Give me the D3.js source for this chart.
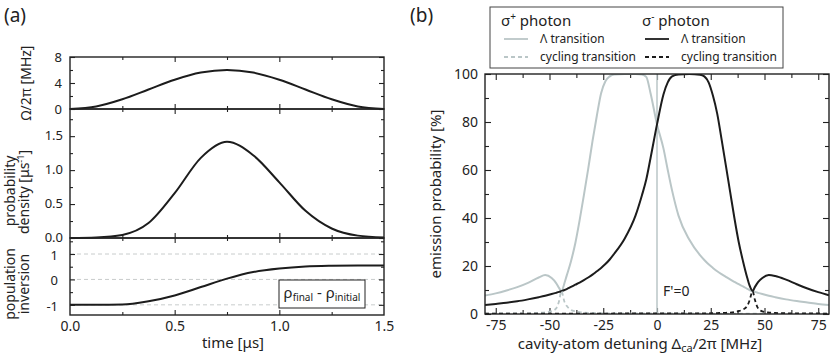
<!DOCTYPE html>
<html>
<head>
<meta charset="utf-8">
<script src="https://cdnjs.cloudflare.com/ajax/libs/d3/7.8.5/d3.min.js"></script>
<style>
body { margin: 0; background: #fff; }
svg { font-family: "Noto Sans", sans-serif; }
</style>
</head>
<body>
<svg id="chart" width="830" height="357"></svg>
<script>
// ---- panel (a): time traces
var time      = [0, 0.125, 0.25, 0.375, 0.5, 0.625, 0.75, 0.875, 1.0, 1.125, 1.25, 1.375, 1.5];
var rabi      = [0, 0.40, 1.5, 3.0, 4.5, 5.6, 6.0, 5.6, 4.5, 3.0, 1.5, 0.40, 0];
var density   = [0, 0.008, 0.045, 0.22, 0.66, 1.18, 1.417, 1.22, 0.82, 0.40, 0.14, 0.035, 0.008];
var inversion = [-1, -1, -0.99, -0.86, -0.63, -0.30, 0.03, 0.29, 0.43, 0.51, 0.54, 0.55, 0.55];

// ---- panel (b): emission probability vs detuning
var detuning = [-80, -75, -70, -65, -60, -55, -52, -49, -47, -45.5, -44.5, -43, -42, -40, -38, -36, -34, -32, -30, -28,
  -26, -24, -22, -20, -15, -10, -7, -5, -3, 0, 3, 5, 7, 10, 15, 20, 22, 24, 26, 28,
  30, 32, 34, 36, 38, 40, 42, 43, 44.5, 45.5, 47, 49, 52, 55, 60, 65, 70, 75, 80];
var plusLambda = [7.7, 8.6, 9.8, 11.2, 13.0, 15.2, 16.2, 15.0, 13.0, 10.8, 9.5, 13, 16, 22, 29.5, 39, 49.5, 60.5, 72, 82.5,
  92, 97, 99, 99.8, 100, 100, 99.8, 98.8, 92, 79, 69, 60, 51.5, 41, 31, 24.5, 22.5, 20.7, 19.2, 17.8,
  16.6, 15.5, 14.4, 13.4, 12.4, 11.5, 10.5, 10, 9.5, 9.2, 8.8, 8.3, 7.6, 7.0, 6.1, 5.4, 4.8, 4.2, 3.7];
var minusLambda = [3.7, 4.2, 4.7, 5.3, 6.1, 7.0, 7.6, 8.3, 8.8, 9.2, 9.5, 10, 10.4, 11.3, 12.2, 13.1, 14.1, 15.2, 16.4, 17.8,
  19.2, 20.8, 22.7, 25, 31.5, 41, 49.5, 56, 65, 79, 91.5, 96.5, 99, 99.8, 100, 99.7, 99, 96.5, 91, 83.5,
  73, 62, 51, 40, 30, 22, 15, 12, 9.6, 11.2, 13.3, 15, 16.2, 15.8, 14.3, 12.4, 10.6, 9.1, 7.8];
var plusCycling = [0.15, 0.2, 0.2, 0.25, 0.3, 0.45, 0.7, 1.2, 2.2, 5.5, 9.5, 5, 3.4, 1.7, 1.1, 0.8, 0.6, 0.5, 0.45, 0.4,
  0.35, 0.3, 0.3, 0.3, 0.25, 0.2, 0.2, 0.2, 0.2, 0.2, 0.2, 0.2, 0.2, 0.2, 0.2, 0.2, 0.15, 0.15, 0.15, 0.15,
  0.15, 0.15, 0.15, 0.15, 0.15, 0.15, 0.15, 0.15, 0.15, 0.15, 0.15, 0.15, 0.15, 0.15, 0.15, 0.15, 0.15, 0.15, 0.15];
var minusCycling = [0.15, 0.15, 0.15, 0.15, 0.15, 0.15, 0.15, 0.15, 0.15, 0.15, 0.15, 0.15, 0.15, 0.15, 0.15, 0.15, 0.15, 0.15, 0.15, 0.15,
  0.15, 0.15, 0.15, 0.2, 0.2, 0.2, 0.2, 0.2, 0.2, 0.2, 0.2, 0.2, 0.2, 0.2, 0.25, 0.3, 0.3, 0.3, 0.35, 0.4,
  0.45, 0.5, 0.6, 0.8, 1.2, 1.9, 3.4, 5.5, 9.5, 6, 2.4, 1.1, 0.6, 0.45, 0.3, 0.25, 0.2, 0.2, 0.15];

var GRAY = "#bac6c7", DARK = "#1c1c1c", INK = "#222";
var FONT = "'Noto Sans', sans-serif";

var svg = d3.select("#chart");

function axis(g, gen, values, size, tx, ty, fmt, pad, fs) {
  var a = gen.tickValues(values).tickSize(-size).tickPadding(pad || 6)
    .tickFormat(fmt || function () { return ""; });
  var s = g.append("g")
    .attr("transform", "translate(" + tx + "," + ty + ")")
    .call(a);
  s.attr("font-family", FONT).attr("font-size", fs || 14);
  s.select(".domain").remove();
  s.selectAll("line").attr("stroke", INK).attr("stroke-width", 1.1);
  s.selectAll("text").attr("fill", INK);
  return s;
}

function box(g, x, y) {
  g.append("rect")
    .attr("x", x.range()[0]).attr("y", y.range()[1])
    .attr("width", x.range()[1] - x.range()[0])
    .attr("height", y.range()[0] - y.range()[1])
    .attr("fill", "none").attr("stroke", INK).attr("stroke-width", 1.4);
}

// ticks on both edges of a subplot, pointing inwards
function xTicks(g, x, y, major, minor, majorLen, minorLen) {
  var yb = y.range()[0], yt = y.range()[1];
  axis(g, d3.axisBottom(x), major, majorLen, 0, yb);
  axis(g, d3.axisBottom(x), minor, minorLen, 0, yb);
  axis(g, d3.axisTop(x), major, majorLen, 0, yt);
  axis(g, d3.axisTop(x), minor, minorLen, 0, yt);
}
function yTicks(g, x, y, major, minor, majorLen, minorLen, fmt, pad, fs) {
  var xl = x.range()[0], xr = x.range()[1];
  var lab = axis(g, d3.axisLeft(y), major, majorLen, xl, 0, fmt, pad, fs);
  axis(g, d3.axisLeft(y), minor, minorLen, xl, 0);
  axis(g, d3.axisRight(y), major, majorLen, xr, 0);
  axis(g, d3.axisRight(y), minor, minorLen, xr, 0);
  return lab;
}

// ================= panel (a)
var ga = svg.append("g");
var xA = d3.scaleLinear([0, 1.5], [70, 384]);
var yTop = d3.scaleLinear([0, 8], [109, 57]);
var yMid = d3.scaleLinear([0, 1.9], [238, 109]);
var yBot = d3.scaleLinear([-1.4, 1.63], [315, 238]);

// dashed guides in the inversion plot
ga.selectAll(".guide").data([-1, 0, 1]).enter().append("line")
  .attr("x1", xA(0)).attr("x2", xA(1.5))
  .attr("y1", function (d) { return yBot(d); }).attr("y2", function (d) { return yBot(d); })
  .attr("stroke", "#c8cccc").attr("stroke-width", 1).attr("stroke-dasharray", "4,3");

var xMaj = [0.5, 1.0], xMin = [0.25, 0.75, 1.25];
[yTop, yMid, yBot].forEach(function (y) { xTicks(ga, xA, y, xMaj, xMin, 5, 3); });

yTicks(ga, xA, yTop, [0, 4, 8], [2, 6], 5, 3, d3.format("d"), 8, 13);
yTicks(ga, xA, yMid, [0, 0.5, 1, 1.5], [0.25, 0.75, 1.25, 1.75], 5, 3, d3.format(".1f"), 7, 13)
  .selectAll("text").attr("dy", "0.28em");
yTicks(ga, xA, yBot, [-1, 0, 1], [-0.5, 0.5, 1.5], 5, 3, function (d) { return String(d); }, 12, 13)
  .selectAll("text").attr("dy", "0.4em");

axis(ga, d3.axisBottom(xA), [0, 0.5, 1, 1.5], 0, 0, 315, d3.format(".1f"), 6);

function traceA(vals, y) {
  var line = d3.line()
    .x(function (d, i) { return xA(time[i]); })
    .y(function (d) { return y(d); })
    .curve(d3.curveMonotoneX);
  ga.append("path").attr("d", line(vals))
    .attr("fill", "none").attr("stroke", DARK).attr("stroke-width", 2);
}
traceA(rabi, yTop);
traceA(density, yMid);
traceA(inversion, yBot);

box(ga, xA, yTop);
box(ga, xA, yMid);
box(ga, xA, yBot);

// legend in inversion plot
ga.append("rect").attr("x", 279).attr("y", 280).attr("width", 86).attr("height", 28)
  .attr("fill", "#fff").attr("stroke", INK).attr("stroke-width", 1);
var rho = ga.append("text").attr("x", 322).attr("y", 298).attr("text-anchor", "middle")
  .attr("font-size", 15).attr("fill", INK);
rho.append("tspan").text("ρ");
rho.append("tspan").attr("dy", 3).attr("font-size", 10).text("final");
rho.append("tspan").attr("dy", -3).text(" - ρ");
rho.append("tspan").attr("dy", 3).attr("font-size", 10).text("initial");

// axis titles (a)
function vText(g, x, y, size) {
  return g.append("text").attr("transform", "translate(" + x + "," + y + ") rotate(-90)")
    .attr("text-anchor", "middle").attr("font-size", size).attr("fill", INK);
}
vText(ga, 31, 83, 14).text("Ω/2π [MHz]");
vText(ga, 15, 191, 14).text("probability");
var dens = vText(ga, 29, 192, 14);
dens.append("tspan").text("density [μs");
dens.append("tspan").attr("dy", -5).attr("font-size", 9).text("-1");
dens.append("tspan").attr("dy", 5).text("]");
vText(ga, 15, 284, 14).text("population");
vText(ga, 29, 284, 14).text("inversion");

ga.append("text").attr("x", 233).attr("y", 348).attr("text-anchor", "middle")
  .attr("font-size", 15).attr("fill", INK).text("time [μs]");
ga.append("text").attr("x", 4).attr("y", 22).attr("font-size", 19).attr("fill", INK).text("(a)");

// ================= panel (b)
var gb = svg.append("g");
var xB = d3.scaleLinear([-80, 80], [485, 829]);
var yB = d3.scaleLinear([0, 100], [314, 74]);

gb.append("clipPath").attr("id", "clipB").append("rect")
  .attr("x", 485).attr("y", 74).attr("width", 344).attr("height", 240);

xTicks(gb, xB, yB, [-75, -50, -25, 0, 25, 50, 75], [-62.5, -37.5, -12.5, 12.5, 37.5, 62.5], 6, 4);
yTicks(gb, xB, yB, [0, 20, 40, 60, 80, 100], [10, 30, 50, 70, 90], 6, 4, function (d) { return String(d); }, 7);
axis(gb, d3.axisBottom(xB), [-75, -50, -25, 0, 25, 50, 75], 0, 0, 314, function (d) { return String(d); }, 6);

var plot = gb.append("g").attr("clip-path", "url(#clipB)");
plot.append("line").attr("x1", xB(0)).attr("x2", xB(0)).attr("y1", yB(0)).attr("y2", yB(100))
  .attr("stroke", GRAY).attr("stroke-width", 1.5);

var lineB = d3.line()
  .x(function (d, i) { return xB(detuning[i]); })
  .y(function (d) { return yB(d); })
  .curve(d3.curveMonotoneX);

var series = [
  { vals: plusLambda, color: GRAY, dash: null },
  { vals: minusLambda, color: DARK, dash: null },
  { vals: plusCycling, color: GRAY, dash: "4,3" },
  { vals: minusCycling, color: DARK, dash: "4,3" }
];
plot.selectAll(".curve").data(series).enter().append("path")
  .attr("class", "curve")
  .attr("d", function (d) { return lineB(d.vals); })
  .attr("fill", "none")
  .attr("stroke", function (d) { return d.color; })
  .attr("stroke-width", function (d) { return d.dash ? 1.8 : 2; })
  .attr("stroke-dasharray", function (d) { return d.dash; });

box(gb, xB, yB);

gb.append("text").attr("x", 663).attr("y", 296).attr("font-size", 14).attr("fill", INK).text("F'=0");

vText(gb, 441, 194, 15).text("emission probability [%]");
var xl = gb.append("text").attr("x", 640).attr("y", 349).attr("text-anchor", "middle")
  .attr("font-size", 15).attr("fill", INK);
xl.append("tspan").text("cavity-atom detuning Δ");
xl.append("tspan").attr("dy", 3).attr("font-size", 11).text("ca");
xl.append("tspan").attr("dy", -3).text("/2π [MHz]");
gb.append("text").attr("x", 410).attr("y", 22).attr("font-size", 19).attr("fill", INK).text("(b)");

// legend (b)
var leg = gb.append("g");
leg.append("rect").attr("x", 490).attr("y", 7).attr("width", 293).attr("height", 61)
  .attr("fill", "#fff").attr("stroke", "#444").attr("stroke-width", 1);
var cols = [
  { x: 501, sign: "+", color: GRAY },
  { x: 642, sign: "-", color: DARK }
];
cols.forEach(function (c) {
  var t = leg.append("text").attr("x", c.x).attr("y", 26).attr("font-size", 15).attr("fill", INK);
  t.append("tspan").text("σ");
  t.append("tspan").attr("dy", -6).attr("font-size", 10).text(c.sign);
  t.append("tspan").attr("dy", 6).text(" photon");
  [{ y: 39, dash: null, label: "Λ transition" }, { y: 57, dash: "4,3", label: "cycling transition" }]
    .forEach(function (r) {
      leg.append("line").attr("x1", c.x + 3).attr("x2", c.x + 27).attr("y1", r.y).attr("y2", r.y)
        .attr("stroke", c.color).attr("stroke-width", 1.8).attr("stroke-dasharray", r.dash);
      leg.append("text").attr("x", c.x + 39).attr("y", r.y + 4).attr("font-size", 12)
        .attr("fill", INK).text(r.label);
    });
});
</script>
</body>
</html>
